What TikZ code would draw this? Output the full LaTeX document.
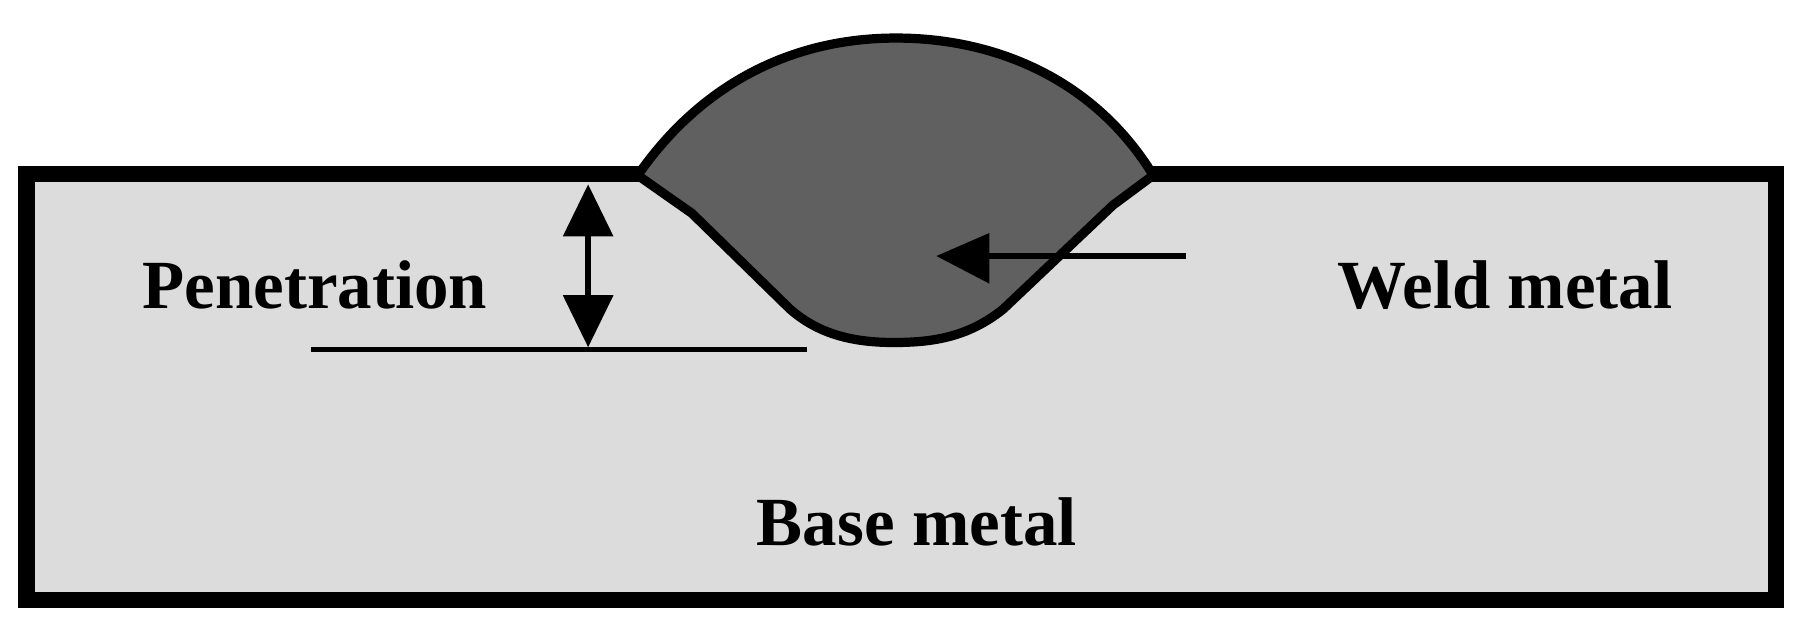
\documentclass[tikz,border=0pt]{standalone}
\usepackage{fontspec}
\setmainfont{Liberation Serif}
\begin{document}
\begin{tikzpicture}[x=0.01cm,y=-0.01cm,
  lbl/.style={font=\fontsize{17}{20}\selectfont\bfseries},
  tri/.style={fill=black}]
\useasboundingbox (0,0) rectangle (1560,540);
\fill[white] (0,0) rectangle (1560,540);
% base plate
\draw[line width=14*0.01cm, fill={rgb,255:red,220;green,220;blue,220}] (23,151) rectangle (1540,520);
% weld
\draw[line width=8*0.01cm, fill={rgb,255:red,96;green,96;blue,96}, line join=round]
  (553,152) .. controls (610,70) and (690,33) .. (777,33)
  .. controls (865,33) and (950,70) .. (1000,152)
  -- (965,178) -- (870,268)
  .. controls (840,292) and (810,297) .. (775,297)
  .. controls (740,297) and (710,290) .. (685,268)
  -- (600,185) -- cycle;
\draw[line width=14*0.01cm] (546,151) -- (553,151);
\draw[line width=14*0.01cm] (1000,151) -- (1010,151);
% penetration
\draw[line width=4*0.01cm] (270,303) -- (700,303);
\coordinate (pt) at (510,160);
\coordinate (pb) at (510,301);
\draw[line width=5*0.01cm] (510,200) -- (510,260);
\fill (pt) -- (488,205) -- (532,205) -- cycle;
\fill (pb) -- (488,256) -- (532,256) -- cycle;
% weld arrow
\coordinate (ws) at (1028,222);
\coordinate (we) at (812,222);
\draw[line width=6*0.01cm] (ws) -- (850,222);
\fill (we) -- (858,202) -- (858,246) -- cycle;
% labels
\node[lbl] (pen) at (273,247) {Penetration};
\node[lbl] (wm) at (1305,247) {Weld metal};
\node[lbl] (bm) at (795,453) {Base metal};
\end{tikzpicture}
\end{document}
